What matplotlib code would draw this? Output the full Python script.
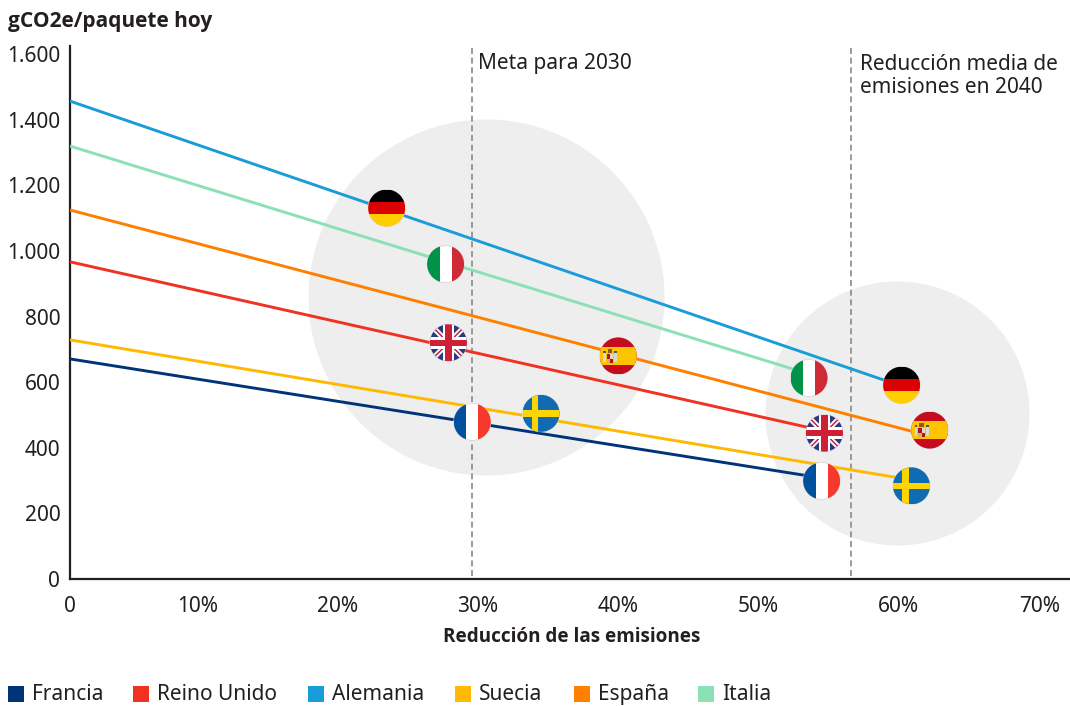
import matplotlib
matplotlib.use('Agg')
import matplotlib.pyplot as plt
from matplotlib.patches import Circle, Rectangle
from matplotlib.transforms import Affine2D

plt.rcParams['font.family'] = ['Noto Sans', 'DejaVu Sans']

paises = ['Francia', 'Reino Unido', 'Alemania', 'Suecia', 'España', 'Italia']
colores = ['#003478', '#f03223', '#1a9cd8', '#ffb900', '#ff7f00', '#8be0b5']
banderas = ['fr', 'uk', 'de', 'se', 'es', 'it']

# valores leidos del grafico
# lineas rectas: valor al inicio del eje y valor al final (bajo la bandera 2040)
y_hoy = [671, 967, 1457, 729, 1125, 1320]
y_fin = [308, 451, 588, 302, 436, 625]
# banderas: no siempre caen justo encima de la linea
x_2030 = [29.6, 27.9, 23.5, 34.5, 40.0, 27.7]
y_2030 = [479, 720, 1131, 505, 680, 960]
x_2040 = [54.5, 54.7, 60.2, 60.9, 62.2, 53.6]
y_2040 = [299, 445, 591, 284, 454, 613]

yticks = [0, 200, 400, 600, 800, 1000, 1200, 1400, 1600]
ylabels = ['0', '200', '400', '600', '800', '1.000', '1.200', '1.400', '1.600']
xticks = [0.93, 10, 20, 30, 40, 50, 60, 70]
xlabels = ['0', '10%', '20%', '30%', '40%', '50%', '60%', '70%']

# zonas grises (centro x, centro y, radio en px)
zonas_x = [30.6, 59.9]
zonas_y = [860, 507]
zonas_r = [178, 132]

metas_x = [29.6, 56.6]

W, H = 1070, 706
fig = plt.figure(figsize=(W / 100, H / 100), dpi=100)
ax = fig.add_axes([70 / W, (H - 579) / H, 1000 / W, 533 / H])
ax.set_xlim(0.93, 72.2)
ax.set_ylim(0, 1625)
ax.patch.set_alpha(0)
for s in ['top', 'right']:
    ax.spines[s].set_visible(False)
for s in ['left', 'bottom']:
    ax.spines[s].set_linewidth(1.6)
    ax.spines[s].set_color('#231f20')

ax.set_xticks(xticks)
ax.set_xticklabels(xlabels)
ax.set_yticks(yticks)
ax.set_yticklabels(ylabels)
ax.tick_params(axis='both', length=0, labelsize=15, labelcolor='#231f20')
ax.tick_params(axis='x', pad=12)
ax.tick_params(axis='y', pad=7)

for zx, zy, zr in zip(zonas_x, zonas_y, zonas_r):
    ax.scatter([zx], [zy], s=(2 * zr * 0.72) ** 2, color='#eeeeee', linewidths=0, zorder=1)

for m in metas_x:
    ax.plot([m, m], [10, 1625], color='#8a8a8a', lw=1.2, linestyle=(0, (3.6, 2.2)), zorder=2)

x0 = ax.get_xlim()[0]
for i in range(len(paises)):
    ax.plot([x0, x_2040[i]], [y_hoy[i], y_fin[i]],
            color=colores[i], lw=2.1, zorder=3, solid_capstyle='butt')


def bandera(nombre, x, y, r=18.5):
    # se dibuja en un circulo unidad y se lleva a pixeles
    px, py = ax.transData.transform((x, y))
    tr = Affine2D().scale(r).translate(px, py)
    disco = Circle((0, 0), 1, transform=tr, facecolor='white',
                   edgecolor='#d8d0d0', lw=0.5, zorder=5)
    ax.add_patch(disco)

    def rect(x1, y1, x2, y2, c):
        p = Rectangle((x1, y1), x2 - x1, y2 - y1, transform=tr, facecolor=c,
                      edgecolor='none', zorder=6)
        ax.add_patch(p)
        p.set_clip_path(disco)

    def linea(xs, ys, c, w):
        l, = ax.plot(xs, ys, transform=tr, color=c, lw=w, zorder=6, solid_capstyle='butt')
        l.set_clip_path(disco)

    if nombre == 'de':
        rect(-1, 0.33, 1, 1, '#000000')
        rect(-1, -0.33, 1, 0.33, '#dd0000')
        rect(-1, -1, 1, -0.33, '#ffce00')
    elif nombre == 'it':
        rect(-1, -1, -0.33, 1, '#009246')
        rect(0.33, -1, 1, 1, '#ce2b37')
    elif nombre == 'fr':
        rect(-1, -1, -0.33, 1, '#00509e')
        rect(0.33, -1, 1, 1, '#f5392d')
    elif nombre == 'se':
        rect(-1, -1, 1, 1, '#106bb0')
        rect(-0.5, -1, -0.14, 1, '#fed500')
        rect(-1, -0.18, 1, 0.18, '#fed500')
    elif nombre == 'es':
        rect(-1, -1, 1, 1, '#c60b1e')
        rect(-1, -0.5, 1, 0.5, '#ffc400')
        # escudo
        rect(-0.82, -0.34, -0.66, 0.16, '#d9d9d0')
        rect(-0.22, -0.34, -0.06, 0.16, '#d9d9d0')
        rect(-0.62, -0.38, -0.26, 0.12, '#ad1519')
        rect(-0.44, -0.14, -0.26, 0.12, '#e8d9b0')
        rect(-0.62, -0.38, -0.44, -0.14, '#d8b060')
        rect(-0.56, 0.14, -0.32, 0.4, '#8a5a20')
        rect(-0.82, 0.16, -0.66, 0.26, '#555555')
        rect(-0.22, 0.16, -0.06, 0.26, '#555555')
    elif nombre == 'uk':
        rect(-1, -1, 1, 1, '#2b3a80')
        for sg in [1, -1]:
            linea([-1, 1], [-sg, sg], 'white', 3.8)
            linea([-1, 1], [-sg, sg], '#cf1f36', 1.1)
        rect(-1, -0.32, 1, 0.32, 'white')
        rect(-0.32, -1, 0.32, 1, 'white')
        rect(-1, -0.17, 1, 0.17, '#cf1f36')
        rect(-0.17, -1, 0.17, 1, '#cf1f36')


for i in range(len(paises)):
    bandera(banderas[i], x_2030[i], y_2030[i])
    bandera(banderas[i], x_2040[i], y_2040[i])

# Noto Sans aqui no tiene negrita, Open Sans es casi igual
fig.text(8 / W, 1 - 21 / H, 'gCO2e/paquete hoy', fontsize=15, fontweight='bold',
         family='Open Sans', color='#231f20', va='center')
fig.text(572 / W, 1 - 637 / H, 'Reducción de las emisiones', fontsize=13.6, fontweight='bold',
         family='Open Sans', color='#231f20', va='center', ha='center')
fig.text(478 / W, 1 - 63 / H, 'Meta para 2030', fontsize=15, color='#231f20', va='center')
fig.text(860 / W, 1 - 76 / H, 'Reducción media de\nemisiones en 2040', fontsize=15,
         color='#231f20', va='center', linespacing=1.15)

# leyenda a mano
ley_x = [8, 133, 308, 455, 574, 698]
for i in range(len(paises)):
    fig.add_artist(Rectangle((ley_x[i] / W, 1 - 702 / H), 16 / W, 16 / H, color=colores[i],
                             transform=fig.transFigure, linewidth=0))
    fig.text((ley_x[i] + 24) / W, 1 - 700 / H, paises[i], fontsize=15, color='#231f20', va='baseline')

fig.savefig('out.png', dpi=100)
